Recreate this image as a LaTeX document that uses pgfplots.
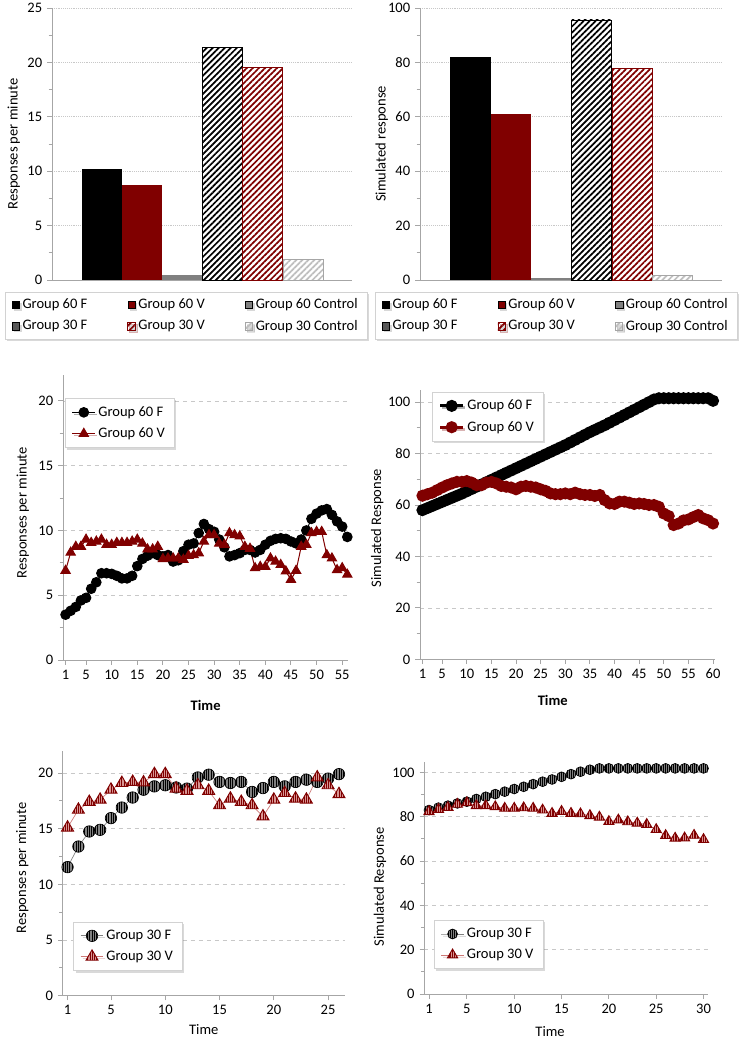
\documentclass[border=0pt]{standalone}
\usepackage{fontspec}
\setmainfont{Carlito}
\usepackage{pgfplots}
\pgfplotsset{compat=1.18}
\usetikzlibrary{patterns.meta,shadows}

\definecolor{dred}{RGB}{128,0,0}
\definecolor{c60ctl}{RGB}{128,128,128}
\definecolor{c30f}{RGB}{89,89,89}
\definecolor{c30ctl}{RGB}{191,191,191}
\definecolor{c30ctlb}{RGB}{166,166,166}
\definecolor{axgray}{RGB}{166,166,166}
\definecolor{gridgray}{RGB}{200,200,200}
\definecolor{leggray}{RGB}{210,210,210}
\definecolor{mkgray}{RGB}{128,128,128}
\definecolor{mkpink}{RGB}{217,150,148}
\definecolor{pinkline}{RGB}{205,120,118}

% striped circle marker
\pgfdeclareplotmark{scircle}{%
  \pgfpathcircle{\pgfpointorigin}{\pgfplotmarksize}%
  \pgfsetfillcolor{mkgray}\pgfusepathqfill
  \begin{pgfscope}%
    \pgfpathcircle{\pgfpointorigin}{\pgfplotmarksize}\pgfusepathqclip
    \pgfsetlinewidth{0.6pt}\pgfsetstrokecolor{black}%
    \pgfpathmoveto{\pgfpoint{-0.8\pgfplotmarksize}{-\pgfplotmarksize}}\pgfpathlineto{\pgfpoint{-0.8\pgfplotmarksize}{\pgfplotmarksize}}%
    \pgfpathmoveto{\pgfpoint{-0.4\pgfplotmarksize}{-\pgfplotmarksize}}\pgfpathlineto{\pgfpoint{-0.4\pgfplotmarksize}{\pgfplotmarksize}}%
    \pgfpathmoveto{\pgfpoint{0pt}{-\pgfplotmarksize}}\pgfpathlineto{\pgfpoint{0pt}{\pgfplotmarksize}}%
    \pgfpathmoveto{\pgfpoint{0.4\pgfplotmarksize}{-\pgfplotmarksize}}\pgfpathlineto{\pgfpoint{0.4\pgfplotmarksize}{\pgfplotmarksize}}%
    \pgfpathmoveto{\pgfpoint{0.8\pgfplotmarksize}{-\pgfplotmarksize}}\pgfpathlineto{\pgfpoint{0.8\pgfplotmarksize}{\pgfplotmarksize}}%
    \pgfusepathqstroke
  \end{pgfscope}%
  \pgfsetlinewidth{0.5pt}\pgfsetstrokecolor{black}%
  \pgfpathcircle{\pgfpointorigin}{\pgfplotmarksize}\pgfusepathqstroke
}
% striped triangle marker
\def\stripath{%
  \pgfpathmoveto{\pgfpointpolar{90}{\pgfplotmarksize}}%
  \pgfpathlineto{\pgfpointpolar{210}{\pgfplotmarksize}}%
  \pgfpathlineto{\pgfpointpolar{330}{\pgfplotmarksize}}%
  \pgfpathclose}
\pgfdeclareplotmark{stri}{%
  \stripath\pgfsetfillcolor{mkpink}\pgfusepathqfill
  \begin{pgfscope}%
    \stripath\pgfusepathqclip
    \pgfsetlinewidth{0.6pt}\pgfsetstrokecolor{dred}%
    \pgfpathmoveto{\pgfpoint{-0.6\pgfplotmarksize}{-\pgfplotmarksize}}\pgfpathlineto{\pgfpoint{-0.6\pgfplotmarksize}{\pgfplotmarksize}}%
    \pgfpathmoveto{\pgfpoint{-0.3\pgfplotmarksize}{-\pgfplotmarksize}}\pgfpathlineto{\pgfpoint{-0.3\pgfplotmarksize}{\pgfplotmarksize}}%
    \pgfpathmoveto{\pgfpoint{0pt}{-\pgfplotmarksize}}\pgfpathlineto{\pgfpoint{0pt}{\pgfplotmarksize}}%
    \pgfpathmoveto{\pgfpoint{0.3\pgfplotmarksize}{-\pgfplotmarksize}}\pgfpathlineto{\pgfpoint{0.3\pgfplotmarksize}{\pgfplotmarksize}}%
    \pgfpathmoveto{\pgfpoint{0.6\pgfplotmarksize}{-\pgfplotmarksize}}\pgfpathlineto{\pgfpoint{0.6\pgfplotmarksize}{\pgfplotmarksize}}%
    \pgfusepathqstroke
  \end{pgfscope}%
  \pgfsetlinewidth{0.7pt}\pgfsetstrokecolor{dred}%
  \stripath\pgfusepathqstroke
}

\pgfplotsset{
  base/.style={
    scale only axis,
    axis x line*=bottom, axis y line*=left,
    axis line style={draw=axgray, line width=0.7pt},
    every tick/.style={draw=axgray, line width=0.7pt},
    tick align=outside,
    major tick length=3.5pt, minor tick length=2.5pt,
    ymin=0,
    minor y tick num=1,
    ymajorgrids,
    /pgf/number format/assume math mode=true,
    tick label style={text=black},
    legend cell align=left,
    clip=false,
  },
  linepanel/.style={base, grid style={dashed, gridgray, line width=0.5pt},
    legend style={anchor=north west, draw=leggray, fill=white,
      drop shadow={shadow xshift=1.5pt,shadow yshift=-1.5pt,opacity=0.3},
      row sep=3pt, inner xsep=5pt, inner ysep=4pt}},
  barpanel/.style={base, grid style={densely dotted, gridgray, line width=0.6pt},
    xtick=\empty, xmin=-0.247, xmax=7.22,
    legend columns=3,
    legend style={anchor=north west, draw=leggray, fill=white,
      drop shadow={shadow xshift=1.5pt,shadow yshift=-1.5pt,opacity=0.3},
      /tikz/every even column/.append style={column sep=28pt},
      row sep=3pt, inner xsep=5pt, inner ysep=3pt},
    legend image code/.code={\draw[##1] (0pt,-2.8pt) rectangle (5.6pt,2.8pt);}},
  bar/.style={ybar, bar width=30.1pt, bar shift=0pt},
  hatchA/.style={draw=black, line width=0.6pt, pattern={Lines[angle=45,distance=3.2pt,line width=1.3pt]}, pattern color=black},
  hatchB/.style={draw=dred, line width=0.6pt, pattern={Lines[angle=45,distance=3.2pt,line width=1.3pt]}, pattern color=dred},
  hatchC/.style={draw=c30ctlb, line width=0.6pt, pattern={Lines[angle=45,distance=3.2pt,line width=1.3pt]}, pattern color=c30ctl},
}

\begin{document}
\fontsize{10.9pt}{13pt}\selectfont
\begin{tikzpicture}
\path[use as bounding box] (0,0) rectangle (554.25pt,-779.25pt);

% ---------- Panel 1 ----------
\begin{axis}[barpanel, at={(39pt,-210pt)}, anchor=south west, width=225pt, height=204pt,
  ymax=25, ytick={0,5,...,25},
  ylabel={Responses per minute},
  ylabel style={at={(axis description cs:-0.127,0.5)}, anchor=center},
  legend style={at={(axis description cs:-0.157,-0.043)}}]
\addplot[bar, fill=black, draw=none] coordinates {(1,10.2)};
\addlegendentry{Group 60 F}
\addplot[bar, fill=dred, draw=none] coordinates {(2,8.7)};
\addlegendentry{Group 60 V}
\addplot[bar, fill=c60ctl, draw=none] coordinates {(3,0.5)};
\addlegendentry{Group 60 Control}
\addplot[bar, fill=white, draw=none, forget plot] coordinates {(4,21.4)};
\addplot[bar, hatchA, forget plot] coordinates {(4,21.4)};
\addlegendimage{fill=c30f, draw=none}
\addlegendentry{Group 30 F}
\addplot[bar, fill=white, draw=none, forget plot] coordinates {(5,19.55)};
\addplot[bar, hatchB] coordinates {(5,19.55)};
\addlegendentry{Group 30 V}
\addplot[bar, fill=white, draw=none, forget plot] coordinates {(6,1.93)};
\addplot[bar, hatchC] coordinates {(6,1.93)};
\addlegendentry{Group 30 Control}
\end{axis}

% ---------- Panel 2 ----------
\begin{axis}[barpanel, at={(315pt,-210pt)}, anchor=south west, width=226.5pt, height=204pt,
  ymax=100, ytick={0,20,...,100},
  ylabel={Simulated response},
  ylabel style={at={(axis description cs:-0.127,0.5)}, anchor=center},
  legend style={at={(axis description cs:-0.149,-0.043)}}]
\addplot[bar, fill=black, draw=none] coordinates {(1,82.1)};
\addlegendentry{Group 60 F}
\addplot[bar, fill=dred, draw=none] coordinates {(2,60.9)};
\addlegendentry{Group 60 V}
\addplot[bar, fill=c60ctl, draw=none] coordinates {(3,0.9)};
\addlegendentry{Group 60 Control}
\addplot[bar, fill=white, draw=none, forget plot] coordinates {(4,95.6)};
\addplot[bar, hatchA, forget plot] coordinates {(4,95.6)};
\addlegendimage{fill=c30f, draw=none}
\addlegendentry{Group 30 F}
\addplot[bar, fill=white, draw=none, forget plot] coordinates {(5,77.8)};
\addplot[bar, hatchB] coordinates {(5,77.8)};
\addlegendentry{Group 30 V}
\addplot[bar, fill=white, draw=none, forget plot] coordinates {(6,1.7)};
\addplot[bar, hatchC] coordinates {(6,1.7)};
\addlegendentry{Group 30 Control}
\end{axis}

% ---------- Panel 3 ----------
\begin{axis}[linepanel, at={(47.25pt,-495pt)}, anchor=south west, width=214pt, height=213.75pt,
  xmin=0.5, xmax=56.2, ymax=22, ytick={0,5,...,20},
  xtick={1,5,10,15,20,25,30,35,40,45,50,55},
  ylabel={Responses per minute}, xlabel={\textbf{Time}},
  ylabel style={at={(axis description cs:-0.141,0.517)}, anchor=center},
  xlabel style={at={(axis description cs:0.5,-0.161)}, anchor=center},
  legend style={at={(axis description cs:0.007,0.919)}}]
\addplot[black, line width=0.75pt, mark=*, mark size=3.6pt] coordinates {
(1,3.5)(2,3.8)(3,4.1)(4,4.6)(5,4.8)(6,5.5)(7,6.0)(8,6.7)(9,6.7)(10,6.65)(11,6.5)(12,6.3)(13,6.3)(14,6.5)(15,7.25)(16,7.8)(17,8.05)(18,8.25)(19,8.1)(20,8.0)(21,8.1)(22,7.6)(23,7.7)(24,8.4)(25,8.9)(26,9.0)(27,9.8)(28,10.5)(29,10.1)(30,9.9)(31,9.3)(32,8.7)(33,8.0)(34,8.1)(35,8.25)(36,8.5)(37,8.5)(38,8.3)(39,8.5)(40,8.9)(41,9.2)(42,9.35)(43,9.4)(44,9.35)(45,9.15)(46,9.0)(47,9.3)(48,10.0)(49,10.9)(50,11.3)(51,11.55)(52,11.65)(53,11.2)(54,10.7)(55,10.3)(56,9.5)};
\addlegendentry{Group 60 F}
\addplot[dred, line width=0.75pt, mark=triangle*, mark size=4pt] coordinates {
(1,6.9)(2,8.3)(3,8.75)(4,8.75)(5,9.3)(6,9.05)(7,9.15)(8,9.3)(9,8.9)(10,8.9)(11,9.05)(12,9.05)(13,9.05)(14,9.15)(15,9.3)(16,9.0)(17,8.55)(18,8.55)(19,8.75)(20,7.8)(21,7.85)(22,7.85)(23,7.85)(24,7.75)(25,8.05)(26,8.1)(27,8.25)(28,9.15)(29,9.65)(30,9.65)(31,9.0)(32,8.9)(33,9.8)(34,9.65)(35,9.55)(36,8.75)(37,8.6)(38,7.1)(39,7.2)(40,7.2)(41,7.85)(42,7.6)(43,7.35)(44,6.85)(45,6.2)(46,6.9)(47,8.75)(48,8.9)(49,9.8)(50,9.9)(51,9.9)(52,8.1)(53,7.85)(54,6.95)(55,7.1)(56,6.6)};
\addlegendentry{Group 60 V}
\end{axis}

% ---------- Panel 4 ----------
\begin{axis}[linepanel, at={(315pt,-494.5pt)}, anchor=south west, width=221.25pt, height=202pt,
  xmin=0.5, xmax=60.4, ymax=104.7, ytick={0,20,...,100},
  xtick={1,5,10,15,20,25,30,35,40,45,50,55,60},
  ylabel={Simulated Response}, xlabel={\textbf{Time}},
  ylabel style={at={(axis description cs:-0.145,0.487)}, anchor=center},
  xlabel style={at={(axis description cs:0.45,-0.154)}, anchor=center},
  legend style={at={(axis description cs:0.04,0.994)}}]
\addplot[black, line width=2.4pt, mark=*, mark size=3.3pt] coordinates {
(1,58.0)(2,58.8)(3,59.6)(4,60.4)(5,61.2)(6,62.0)(7,62.8)(8,63.6)(9,64.4)(10,65.3)(11,66.2)(12,67.1)(13,68.0)(14,68.9)(15,69.8)(16,70.7)(17,71.6)(18,72.5)(19,73.4)(20,74.3)(21,75.2)(22,76.1)(23,77.0)(24,77.9)(25,78.8)(26,79.7)(27,80.6)(28,81.5)(29,82.4)(30,83.3)(31,84.3)(32,85.3)(33,86.3)(34,87.3)(35,88.3)(36,89.2)(37,90.1)(38,91.0)(39,92.0)(40,93.0)(41,94.0)(42,95.0)(43,96.0)(44,97.0)(45,98.0)(46,99.0)(47,100.0)(48,101.0)(49,101.5)(50,101.5)(51,101.5)(52,101.5)(53,101.5)(54,101.5)(55,101.5)(56,101.5)(57,101.5)(58,101.5)(59,101.5)(60,100.5)};
\addlegendentry{Group 60 F}
\addplot[dred, line width=2.4pt, mark=*, mark size=3.3pt] coordinates {
(1,63.6)(2,64.2)(3,64.8)(4,65.8)(5,66.8)(6,67.7)(7,68.4)(8,69.0)(9,69.0)(10,69.3)(11,68.7)(12,67.7)(13,67.7)(14,68.7)(15,69.0)(16,68.4)(17,67.4)(18,67.1)(19,66.8)(20,66.1)(21,67.1)(22,67.4)(23,67.1)(24,66.8)(25,66.1)(26,65.5)(27,64.5)(28,64.2)(29,64.2)(30,64.5)(31,64.2)(32,64.8)(33,64.2)(34,63.9)(35,63.9)(36,63.5)(37,63.9)(38,61.9)(39,60.6)(40,60.4)(41,61.3)(42,61.3)(43,60.9)(44,60.4)(45,60.6)(46,60.4)(47,60.0)(48,60.0)(49,59.3)(50,56.7)(51,55.7)(52,52.2)(53,52.8)(54,54.0)(55,54.4)(56,55.3)(57,56.1)(58,54.8)(59,54.1)(60,52.8)};
\addlegendentry{Group 60 V}
\end{axis}

% ---------- Panel 5 ----------
\begin{axis}[linepanel, at={(47pt,-746.8pt)}, anchor=south west, width=211.7pt, height=183.75pt,
  xmin=0.55, xmax=26.55, ymax=22, ytick={0,5,...,20},
  xtick={1,5,10,15,20,25},
  ylabel={Responses per minute}, xlabel={Time},
  ylabel style={at={(axis description cs:-0.143,0.522)}, anchor=center},
  xlabel style={at={(axis description cs:0.5,-0.14)}, anchor=center},
  legend style={at={(axis description cs:0.038,0.302)}}]
\addplot[mkgray, line width=0.5pt, mark=scircle, mark size=4.3pt] coordinates {
(1,11.55)(2,13.4)(3,14.75)(4,14.9)(5,15.95)(6,16.9)(7,17.8)(8,18.5)(9,18.8)(10,18.9)(11,18.7)(12,18.6)(13,19.6)(14,19.85)(15,19.2)(16,19.1)(17,19.2)(18,18.3)(19,18.65)(20,19.2)(21,18.8)(22,19.2)(23,19.4)(24,19.2)(25,19.5)(26,19.9)};
\addlegendentry{Group 30 F}
\addplot[pinkline, line width=0.5pt, mark=stri, mark size=5.2pt] coordinates {
(1,15.1)(2,16.7)(3,17.4)(4,17.6)(5,18.5)(6,19.1)(7,19.2)(8,19.15)(9,19.9)(10,19.9)(11,18.6)(12,18.4)(13,18.9)(14,18.4)(15,17.1)(16,17.7)(17,17.4)(18,17.1)(19,16.1)(20,17.6)(21,18.2)(22,17.7)(23,17.6)(24,19.6)(25,18.9)(26,18.1)};
\addlegendentry{Group 30 V}
\end{axis}

% ---------- Panel 6 ----------
\begin{axis}[linepanel, at={(318.2pt,-745.5pt)}, anchor=south west, width=213pt, height=174.2pt,
  xmin=0.5, xmax=30.5, ymax=104.8, ytick={0,20,...,100},
  xtick={1,5,10,15,20,25,30},
  ylabel={Simulated Response}, xlabel={Time},
  ylabel style={at={(axis description cs:-0.156,0.462)}, anchor=center},
  xlabel style={at={(axis description cs:0.443,-0.162)}, anchor=center},
  legend style={at={(axis description cs:0.034,0.319)}}]
\addplot[mkgray, line width=0.5pt, mark=scircle, mark size=3.7pt] coordinates {
(1,83.0)(2,84.1)(3,85.0)(4,86.0)(5,86.8)(6,88.0)(7,89.0)(8,90.2)(9,91.3)(10,92.5)(11,93.5)(12,94.7)(13,95.8)(14,96.8)(15,98.0)(16,99.2)(17,100.3)(18,101.2)(19,101.8)(20,101.8)(21,101.8)(22,101.8)(23,101.8)(24,101.8)(25,101.8)(26,101.8)(27,101.8)(28,101.8)(29,101.8)(30,101.8)};
\addlegendentry{Group 30 F}
\addplot[pinkline, line width=0.5pt, mark=stri, mark size=4.4pt] coordinates {
(1,82.3)(2,83.3)(3,84.2)(4,85.6)(5,86.3)(6,85.0)(7,85.0)(8,84.5)(9,83.8)(10,83.8)(11,84.0)(12,83.8)(13,83.0)(14,81.5)(15,82.4)(16,81.5)(17,81.3)(18,80.5)(19,79.8)(20,77.8)(21,78.5)(22,77.7)(23,77.1)(24,76.5)(25,74.2)(26,71.5)(27,70.3)(28,70.4)(29,71.6)(30,69.7)};
\addlegendentry{Group 30 V}
\end{axis}
\end{tikzpicture}
\end{document}
